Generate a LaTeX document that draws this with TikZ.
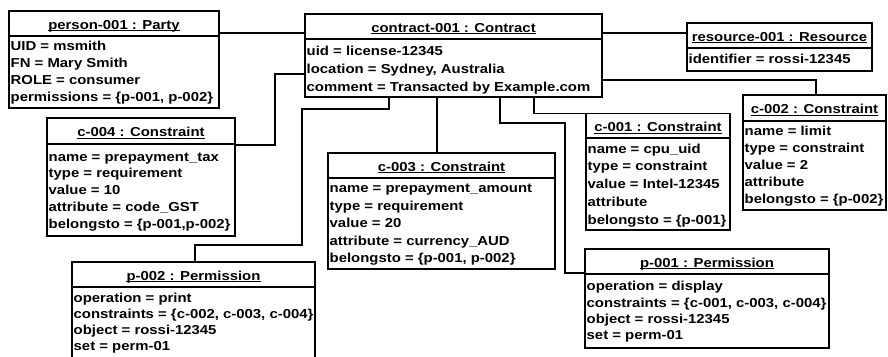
\documentclass[tikz,border=0pt]{standalone}
\usepackage{fontspec}
\setmainfont{Liberation Sans}[FakeStretch=1.146]
\begin{document}
\tikzset{
  objframe/.style={draw, line width=1.5pt, anchor=north west, inner sep=0pt, outer sep=0pt},
  objrule/.style={line width=1.5pt},
  objtitle/.style={anchor=base, inner sep=0pt, font=\bfseries\fontsize{13}{15}\selectfont},
  titlerule/.style={line width=1.1pt},
  objattr/.style={anchor=base west, inner sep=0pt, font=\bfseries\fontsize{13}{15}\selectfont},
  link/.style={line width=1.5pt}
}
% object box: name, x, y, width, height, header height, title
\newcommand\umlobject[7]{%
  \node[objframe, minimum width=#4pt, minimum height=#5pt] (#1) at (#2,#3) {};
  \draw[objrule] ([yshift=-#6pt]#1.north west) -- ([yshift=-#6pt]#1.north east);
  \node[objtitle] (#1-title) at ([yshift={-#6pt/2-5.5pt}]#1.north) {#7};
  \draw[titlerule] ([yshift=-1.8pt]#1-title.base west) -- ([yshift=-1.8pt]#1-title.base east);
}
% attribute lines: name, first baseline y, line step, list of lines
\newcommand\umlattrs[4]{%
  \foreach \txt [count=\i] in {#4} {
    \node[objattr, xshift=1.5pt] (#1-attr\i) at (#1.west |- 0,{#2+(\i-1)*#3}) {\txt};
  }
}
\begin{tikzpicture}[x=1pt, y=-1pt]
\useasboundingbox (0,0) rectangle (888,356);

% objects
\umlobject{person}{9}{11}{210}{97}{25}{person-001 : Party\ }
\umlattrs{person}{50}{17}{{UID = msmith},{FN = Mary Smith},{ROLE = consumer},{permissions = \{p-001, p-002\}}}

\umlobject{contract}{305}{14}{297}{83}{25}{contract-001 : Contract}
\umlattrs{contract}{55}{18}{{uid = license-12345},{location = Sydney, Australia},{comment = Transacted by Example.com}}

\umlobject{resource}{687}{23}{185}{48}{25}{resource-001 : Resource\ }
\umlattrs{resource}{63}{17}{{identifier = rossi-12345}}

\umlobject{c004}{47}{118}{188}{118}{26}{c-004 : Constraint}
\umlattrs{c004}{161}{16.75}{{name = prepayment\_tax},{type = requirement},{value = 10},{attribute = code\_GST},{belongsto = \{p-001,p-002\}}}

\umlobject{c003}{328}{153}{227}{116}{25}{c-003 : Constraint\ }
\umlattrs{c003}{192.7}{17.5}{{name = prepayment\_amount},{type = requirement},{value = 20},{attribute = currency\_AUD},{belongsto = \{p-001, p-002\}}}

\umlobject{c001}{586}{113.5}{144}{116.5}{24.5}{c-001 : Constraint}
\umlattrs{c001}{153}{17.75}{{name = cpu\_uid},{type = constraint},{value = Intel-12345},{attribute},{belongsto = \{p-001\}}}

\umlobject{c002}{743}{95}{143}{115}{26}{c-002 : Constraint}
\umlattrs{c002}{135}{17}{{name = limit},{type = constraint},{value = 2},{attribute},{belongsto = \{p-002\}}}

\umlobject{p002}{72}{262}{243}{100}{25}{p-002 : Permission\ }
\umlattrs{p002}{302}{16.3}{{operation = print},{constraints = \{c-002, c-003, c-004\}},{object = rossi-12345},{set = perm-01}}

\umlobject{p001}{585}{249}{244}{99}{25}{p-001 : Permission\ }
\umlattrs{p001}{290.7}{16.3}{{operation = display},{constraints = \{c-001, c-003, c-004\}},{object = rossi-12345},{set = perm-01}}

% links
\draw[link] (person.east |- 0,33) -- (contract.west |- 0,33);
\draw[link] (contract.east |- 0,33) -- (resource.west |- 0,33);
\draw[link] (contract.west |- 0,74) -| (275,145) -- (c004.east |- 0,145);
\draw[link] (contract.south -| 389,0) -- (389,109) -- (302,109) -- (302,245) -| (p002.north -| 195,0);
\draw[link] (contract.south -| 437,0) -- (c003.north -| 437,0);
\draw[link] (contract.south -| 500,0) -- (500,123) -- (565,123) |- (p001.west |- 0,273);
\draw[link] (contract.south -| 534,0) |- (c001.north west);
\draw[link] (contract.east |- 0,80) -| (c002.north -| 816,0);
\end{tikzpicture}
\end{document}
